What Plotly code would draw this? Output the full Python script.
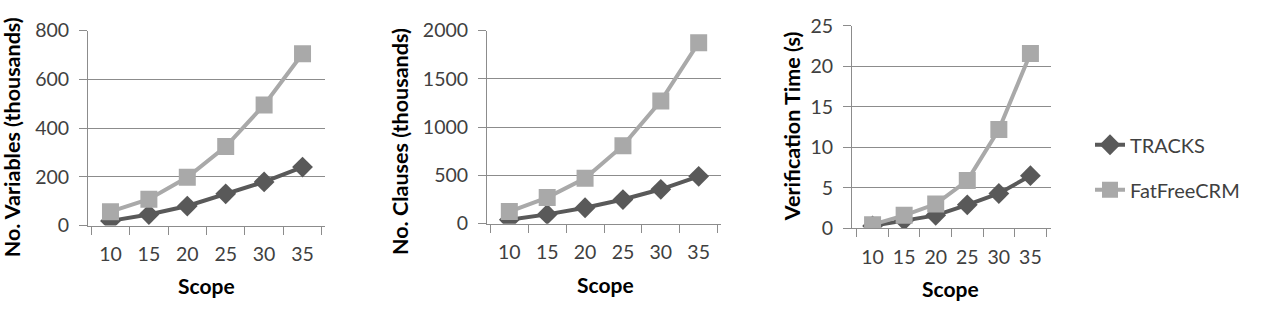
import plotly.graph_objects as go

scope = ["10", "15", "20", "25", "30", "35"]

vars_tracks = [19, 45, 80, 130, 179, 240]
vars_fatfree = [57, 108, 198, 324, 495, 705]

clauses_tracks = [40, 96, 165, 250, 356, 490]
clauses_fatfree = [125, 270, 470, 808, 1270, 1875]

time_tracks = [0.3, 1.0, 1.6, 2.9, 4.3, 6.5]
time_fatfree = [0.45, 1.6, 3.0, 5.9, 12.2, 21.6]

y_titles = ["No. Variables (thousands)", "No. Clauses (thousands)", "Verification Time (s)"]
y_ranges = [[0, 800], [0, 2000], [0, 25]]
y_dticks = [200, 500, 5]

W, H = 1287, 321
# plot area pixel boxes (left, right, top, bottom)
boxes = [(88, 325, 20, 230), (487, 721, 20, 228), (852, 1051, 15, 233)]

DARK = "#595959"
LIGHT = "#a9a9a9"
GRID = "#8c8c8c"
FONT = "Lato, 'Open Sans', sans-serif"
TXT = "#404040"

series = [(vars_tracks, vars_fatfree), (clauses_tracks, clauses_fatfree), (time_tracks, time_fatfree)]

fig = go.Figure()
layout = {}
for i, ((tr, ff), box) in enumerate(zip(series, boxes)):
    n = "" if i == 0 else str(i + 1)
    xa, ya = "x" + n, "y" + n
    fig.add_trace(go.Scatter(x=scope, y=tr, name="TRACKS", mode="lines+markers",
                             line=dict(color=DARK, width=4),
                             marker=dict(symbol="diamond", size=16, color=DARK),
                             xaxis=xa, yaxis=ya, showlegend=(i == 0), legendgroup="a"))
    fig.add_trace(go.Scatter(x=scope, y=ff, name="FatFreeCRM", mode="lines+markers",
                             line=dict(color=LIGHT, width=4),
                             marker=dict(symbol="square", size=17, color=LIGHT),
                             xaxis=xa, yaxis=ya, showlegend=(i == 0), legendgroup="b"))
    l, r, t, b = box
    layout["xaxis" + n] = dict(
        domain=[l / W, r / W], anchor=ya, type="category", tickson="boundaries",
        ticks="outside", ticklen=8, tickcolor=GRID, showgrid=False,
        showline=True, linecolor=GRID, linewidth=1, tickangle=0,
        tickfont=dict(family=FONT, size=19.5, color=TXT), ticklabelstandoff=11,
        fixedrange=True)
    layout["yaxis" + n] = dict(
        domain=[(H - b) / H, (H - t) / H], anchor=xa, range=y_ranges[i], dtick=y_dticks[i],
        ticks="outside", ticklen=8, tickcolor=GRID, showgrid=True, gridcolor=GRID, gridwidth=1,
        showline=True, linecolor=GRID, linewidth=1, zeroline=False,
        tickfont=dict(family=FONT, size=19.5, color=TXT), ticklabelstandoff=6,
        fixedrange=True)

title_pos = [((12, 135), (206, 295)), ((400, 140), (605, 293)), ((792, 123), (950, 298))]
annotations = []
for i, ((yx, yy), (sx, sy)) in enumerate(title_pos):
    annotations.append(dict(text=y_titles[i], x=yx / W, y=1 - yy / H, xref="paper", yref="paper",
                            showarrow=False, textangle=-90, xanchor="center", yanchor="middle",
                            font=dict(family=FONT, size=21.5, color="#000", weight="bold")))
    annotations.append(dict(text="Scope", x=sx / W, y=1 - sy / H, xref="paper", yref="paper",
                            showarrow=False, xanchor="center", yanchor="middle",
                            font=dict(family=FONT, size=21, color="#000", weight="bold")))

fig.update_layout(
    width=W, height=H, margin=dict(l=0, r=0, t=0, b=0),
    paper_bgcolor="white", plot_bgcolor="white",
    annotations=annotations,
    legend=dict(x=1090 / W, y=1 - 122 / H, xanchor="left", yanchor="top",
                font=dict(family=FONT, size=20, color=TXT), tracegroupgap=16,
                traceorder="grouped", bgcolor="rgba(0,0,0,0)"),
    **layout)

fig.write_html("out.html")
